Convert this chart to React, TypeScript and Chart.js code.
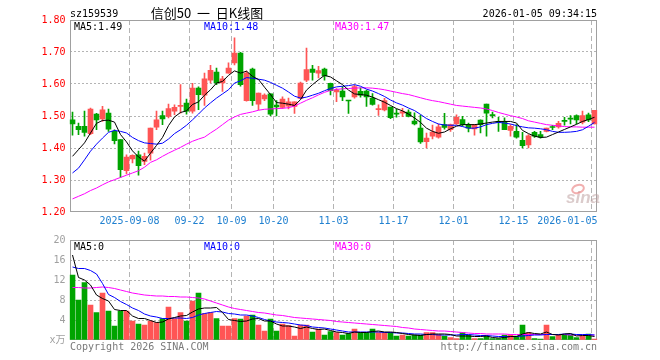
import React, { useEffect, useRef } from 'react';
import { Chart, registerables } from 'chart.js';

Chart.register(...registerables);

// ---------- data ----------
const dates = [
  '2025-08-25', '2025-08-26', '2025-08-27', '2025-08-28', '2025-08-29',
  '2025-09-01', '2025-09-02', '2025-09-03', '2025-09-04', '2025-09-05',
  '2025-09-08', '2025-09-09', '2025-09-10', '2025-09-11', '2025-09-12',
  '2025-09-15', '2025-09-16', '2025-09-17', '2025-09-18', '2025-09-19',
  '2025-09-22', '2025-09-23', '2025-09-24', '2025-09-25', '2025-09-26',
  '2025-09-29', '2025-09-30',
  '2025-10-09', '2025-10-10',
  '2025-10-13', '2025-10-14', '2025-10-15', '2025-10-16', '2025-10-17',
  '2025-10-20', '2025-10-21', '2025-10-22', '2025-10-23', '2025-10-24',
  '2025-10-27', '2025-10-28', '2025-10-29', '2025-10-30', '2025-10-31',
  '2025-11-03', '2025-11-04', '2025-11-05', '2025-11-06', '2025-11-07',
  '2025-11-10', '2025-11-11', '2025-11-12', '2025-11-13', '2025-11-14',
  '2025-11-17', '2025-11-18', '2025-11-19', '2025-11-20', '2025-11-21',
  '2025-11-24', '2025-11-25', '2025-11-26', '2025-11-27', '2025-11-28',
  '2025-12-01', '2025-12-02', '2025-12-03', '2025-12-04', '2025-12-05',
  '2025-12-08', '2025-12-09', '2025-12-10', '2025-12-11', '2025-12-12',
  '2025-12-15', '2025-12-16', '2025-12-17', '2025-12-18', '2025-12-19',
  '2025-12-22', '2025-12-23', '2025-12-24', '2025-12-25', '2025-12-26',
  '2025-12-29', '2025-12-30', '2025-12-31',
  '2026-01-05',
];

const open = [
  1.488, 1.468, 1.468, 1.445, 1.506, 1.491, 1.509, 1.452, 1.426, 1.329,
  1.366, 1.379, 1.358, 1.384, 1.465, 1.501, 1.499, 1.515, 1.530, 1.540,
  1.515, 1.587, 1.565, 1.612, 1.637, 1.603, 1.634, 1.666, 1.697, 1.548,
  1.647, 1.537, 1.553, 1.569, 1.534, 1.527, 1.531, 1.530, 1.555, 1.612,
  1.647, 1.634, 1.647, 1.602, 1.575, 1.578, 1.548, 1.560, 1.577, 1.578,
  1.556, 1.520, 1.519, 1.528, 1.508, 1.509, 1.512, 1.484, 1.462, 1.420,
  1.437, 1.434, 1.473, 1.457, 1.475, 1.489, 1.473, 1.460, 1.487, 1.537,
  1.502, 1.482, 1.483, 1.455, 1.452, 1.424, 1.410, 1.449, 1.442, 1.452,
  1.466, 1.466, 1.484, 1.491, 1.501, 1.481, 1.504, 1.475,
];
const high = [
  1.512, 1.478, 1.515, 1.525, 1.508, 1.530, 1.522, 1.457, 1.426, 1.379,
  1.379, 1.390, 1.384, 1.462, 1.515, 1.515, 1.537, 1.535, 1.598, 1.553,
  1.602, 1.591, 1.634, 1.658, 1.650, 1.624, 1.666, 1.744, 1.699, 1.640,
  1.650, 1.572, 1.569, 1.569, 1.548, 1.560, 1.556, 1.544, 1.606, 1.712,
  1.658, 1.655, 1.650, 1.603, 1.586, 1.592, 1.548, 1.597, 1.588, 1.581,
  1.570, 1.535, 1.555, 1.528, 1.522, 1.524, 1.519, 1.510, 1.503, 1.447,
  1.472, 1.475, 1.508, 1.475, 1.504, 1.499, 1.478, 1.473, 1.488, 1.537,
  1.512, 1.496, 1.494, 1.473, 1.473, 1.449, 1.442, 1.452, 1.452, 1.462,
  1.471, 1.483, 1.496, 1.501, 1.504, 1.515, 1.509, 1.518,
];
const low = [
  1.440, 1.442, 1.437, 1.442, 1.457, 1.483, 1.452, 1.413, 1.308, 1.319,
  1.353, 1.315, 1.348, 1.362, 1.457, 1.473, 1.494, 1.504, 1.509, 1.506,
  1.509, 1.520, 1.533, 1.603, 1.598, 1.577, 1.634, 1.660, 1.593, 1.546,
  1.533, 1.519, 1.548, 1.501, 1.500, 1.524, 1.522, 1.508, 1.553, 1.607,
  1.612, 1.619, 1.612, 1.566, 1.545, 1.548, 1.508, 1.556, 1.559, 1.530,
  1.534, 1.502, 1.516, 1.492, 1.496, 1.498, 1.497, 1.472, 1.414, 1.400,
  1.428, 1.431, 1.459, 1.452, 1.474, 1.468, 1.450, 1.440, 1.447, 1.437,
  1.494, 1.452, 1.457, 1.437, 1.431, 1.400, 1.400, 1.433, 1.431, 1.450,
  1.457, 1.462, 1.471, 1.475, 1.475, 1.475, 1.482, 1.475,
];
const close = [
  1.475, 1.457, 1.449, 1.522, 1.488, 1.519, 1.459, 1.423, 1.332, 1.372,
  1.377, 1.345, 1.374, 1.462, 1.488, 1.491, 1.523, 1.527, 1.533, 1.515,
  1.587, 1.567, 1.616, 1.643, 1.603, 1.616, 1.650, 1.697, 1.598, 1.634,
  1.548, 1.572, 1.565, 1.506, 1.528, 1.553, 1.544, 1.544, 1.603, 1.645,
  1.636, 1.642, 1.625, 1.579, 1.581, 1.560, 1.547, 1.592, 1.565, 1.560,
  1.536, 1.523, 1.548, 1.495, 1.506, 1.514, 1.499, 1.475, 1.419, 1.431,
  1.450, 1.466, 1.464, 1.473, 1.496, 1.473, 1.462, 1.473, 1.473, 1.509,
  1.501, 1.480, 1.457, 1.468, 1.434, 1.407, 1.438, 1.437, 1.434, 1.462,
  1.464, 1.477, 1.483, 1.490, 1.488, 1.501, 1.488, 1.518,
];

const ma5 = [
  1.374, 1.395, 1.416, 1.447, 1.477, 1.486, 1.487, 1.481, 1.442, 1.419,
  1.391, 1.372, 1.359, 1.384, 1.408, 1.433, 1.470, 1.497, 1.511, 1.516,
  1.536, 1.544, 1.565, 1.582, 1.603, 1.608, 1.627, 1.641, 1.634, 1.640,
  1.624, 1.614, 1.590, 1.567, 1.542, 1.540, 1.537, 1.533, 1.551, 1.581,
  1.598, 1.613, 1.627, 1.622, 1.610, 1.598, 1.581, 1.569, 1.567, 1.565,
  1.559, 1.551, 1.543, 1.533, 1.523, 1.516, 1.506, 1.494, 1.480, 1.462,
  1.452, 1.446, 1.450, 1.460, 1.468, 1.473, 1.473, 1.473, 1.475, 1.478,
  1.481, 1.483, 1.483, 1.483, 1.478, 1.455, 1.445, 1.437, 1.433, 1.434,
  1.442, 1.450, 1.458, 1.466, 1.474, 1.483, 1.489, 1.496,
];
const ma10 = [
  1.322, 1.337, 1.363, 1.390, 1.412, 1.431, 1.449, 1.455, 1.452, 1.447,
  1.433, 1.423, 1.416, 1.414, 1.412, 1.415, 1.428, 1.445, 1.457, 1.471,
  1.488, 1.506, 1.525, 1.541, 1.556, 1.569, 1.582, 1.603, 1.610, 1.620,
  1.618, 1.615, 1.612, 1.605, 1.596, 1.587, 1.575, 1.562, 1.556, 1.559,
  1.565, 1.571, 1.579, 1.586, 1.591, 1.593, 1.595, 1.598, 1.593, 1.584,
  1.578, 1.570, 1.561, 1.550, 1.541, 1.534, 1.525, 1.517, 1.505, 1.492,
  1.483, 1.475, 1.472, 1.471, 1.471, 1.467, 1.462, 1.462, 1.466, 1.473,
  1.477, 1.480, 1.478, 1.475, 1.470, 1.466, 1.463, 1.462, 1.460, 1.457,
  1.452, 1.449, 1.449, 1.450, 1.452, 1.457, 1.468, 1.480,
];
const ma30 = [
  1.241, 1.249, 1.257, 1.267, 1.275, 1.285, 1.294, 1.301, 1.308, 1.315,
  1.322, 1.329, 1.340, 1.355, 1.363, 1.374, 1.384, 1.393, 1.402, 1.412,
  1.421, 1.428, 1.434, 1.447, 1.459, 1.473, 1.487, 1.497, 1.505, 1.509,
  1.513, 1.518, 1.521, 1.522, 1.523, 1.524, 1.526, 1.531, 1.540, 1.549,
  1.557, 1.566, 1.574, 1.580, 1.583, 1.585, 1.586, 1.587, 1.588, 1.588,
  1.587, 1.585, 1.582, 1.578, 1.574, 1.570, 1.567, 1.562, 1.557, 1.552,
  1.548, 1.545, 1.541, 1.537, 1.533, 1.531, 1.529, 1.527, 1.525, 1.522,
  1.517, 1.511, 1.506, 1.501, 1.497, 1.492, 1.485, 1.481, 1.477, 1.473,
  1.471, 1.469, 1.467, 1.466, 1.466, 1.465, 1.465, 1.465,
];

// volume, in 万
const volume = [
  13.0, 8.0, 11.5, 7.0, 5.5, 9.4, 5.8, 2.8, 5.8, 5.8,
  3.8, 3.2, 3.0, 3.8, 3.5, 4.3, 6.6, 4.3, 5.5, 3.8,
  7.8, 9.4, 5.3, 5.5, 4.3, 2.8, 2.8, 4.3, 4.2, 4.8,
  5.0, 3.0, 1.8, 4.2, 1.8, 3.2, 2.9, 0.8, 3.0, 3.0,
  1.6, 2.2, 1.0, 1.7, 1.5, 1.0, 1.3, 2.2, 1.5, 1.5,
  2.2, 1.5, 1.5, 1.5, 0.8, 1.0, 0.8, 1.0, 1.0, 1.5,
  1.5, 1.1, 0.8, 0.5, 0.3, 1.5, 1.0, 0.3, 0.3, 0.8,
  0.3, 0.3, 1.0, 1.1, 0.8, 3.0, 1.5, 0.3, 0.2, 3.0,
  0.7, 1.0, 1.0, 1.0, 0.5, 0.8, 1.2, 0.2,
];
const volMa5 = [
  17.0, 12.5, 12.0, 11.0, 9.0, 8.3, 7.8, 6.1, 5.9, 5.9,
  4.8, 4.3, 4.3, 3.9, 3.5, 3.6, 4.2, 4.5, 4.8, 4.9,
  5.6, 6.2, 6.4, 6.4, 6.5, 5.5, 4.1, 3.9, 3.7, 3.8,
  4.2, 4.3, 3.8, 3.8, 3.2, 2.8, 2.8, 2.6, 2.3, 2.6,
  2.3, 2.1, 2.2, 1.9, 1.6, 1.5, 1.3, 1.6, 1.5, 1.5,
  1.7, 1.8, 1.6, 1.6, 1.5, 1.3, 1.1, 1.0, 0.9, 1.1,
  1.2, 1.2, 1.2, 1.1, 0.8, 0.8, 0.8, 0.7, 0.7, 0.8,
  0.5, 0.4, 0.5, 0.7, 0.7, 1.2, 1.5, 1.3, 1.2, 1.6,
  1.1, 1.0, 1.2, 1.3, 0.8, 0.9, 0.9, 0.7,
];
const volMa10 = [
  14.6, 14.3, 14.3, 13.9, 13.2, 11.3, 9.1, 8.5, 7.7, 7.1,
  6.4, 5.9, 5.2, 4.8, 4.6, 4.3, 4.3, 4.4, 4.4, 4.3,
  4.5, 5.0, 5.3, 5.5, 5.7, 5.6, 5.3, 5.2, 5.0, 5.0,
  4.8, 4.5, 4.1, 3.8, 3.6, 3.5, 3.4, 3.2, 3.0, 2.9,
  2.6, 2.5, 2.4, 2.2, 2.0, 1.8, 1.6, 1.6, 1.6, 1.6,
  1.6, 1.6, 1.5, 1.5, 1.4, 1.4, 1.3, 1.2, 1.2, 1.1,
  1.1, 1.0, 1.0, 1.0, 1.0, 1.1, 1.1, 1.0, 0.9, 0.9,
  0.8, 0.7, 0.7, 0.7, 0.7, 0.8, 0.9, 1.0, 1.0, 1.1,
  1.1, 1.1, 1.2, 1.2, 1.1, 1.1, 1.1, 1.0,
];
const volMa30 = [
  10.5, 10.5, 10.4, 10.4, 10.5, 10.6, 10.5, 10.3, 10.0, 9.7,
  9.4, 9.2, 9.0, 8.9, 8.8, 8.8, 8.7, 8.7, 8.6, 8.6,
  8.5, 8.4, 8.2, 7.8, 7.4, 7.0, 6.6, 6.3, 6.1, 5.9,
  5.7, 5.5, 5.4, 5.2, 5.0, 4.9, 4.7, 4.5, 4.4, 4.3,
  4.2, 4.1, 4.0, 3.9, 3.7, 3.6, 3.5, 3.4, 3.3, 3.2,
  3.1, 3.0, 2.9, 2.8, 2.7, 2.5, 2.4, 2.2, 2.1, 2.0,
  1.9, 1.8, 1.8, 1.7, 1.6, 1.5, 1.4, 1.3, 1.3, 1.2,
  1.2, 1.2, 1.2, 1.1, 1.1, 1.1, 1.1, 1.1, 1.1, 1.1,
  1.1, 1.1, 1.1, 1.0, 1.0, 1.0, 1.0, 1.0,
];

const tickDates = ['2025-09-08', '2025-09-22', '2025-10-09', '2025-10-20', '2025-11-03', '2025-11-17', '2025-12-01', '2025-12-15', '2026-01-05'];
const tickLabels = ['2025-09-08', '09-22', '10-09', '10-20', '11-03', '11-17', '12-01', '12-15', '2026-01-05'];

const symbolText = 'sz159539';
const titleText = '信创50  一  日K线图';
const timeText = '2026-01-05 09:34:15';
const priceLegend = ['MA5:1.49', 'MA10:1.48', 'MA30:1.47'];
const volLegend = ['MA5:0', 'MA10:0', 'MA30:0'];
const copyrightText = 'Copyright 2026 SINA.COM';
const urlText = 'http://finance.sina.com.cn';

// ---------- styles ----------
const UP = '#ff5555';
const DOWN = '#00a400';
const GRID = '#b4b4b4';
const FRAME = '#a0a0a0';
const MONO = '"DejaVu Sans Mono", "Noto Sans CJK SC", monospace';
const LEGEND_COLORS = ['#000000', '#0000ff', '#ff00ff'];
const LEGEND_X = [74, 204, 335];
const AREA_LEFT = 69.5;
const AREA_RIGHT = 597.5;

const candleColors = close.map((c, i) => (c >= open[i] ? UP : DOWN));
const tickIdx = new Set(tickDates.map((d) => dates.indexOf(d)));

function lineDs(label: string, data: number[], color: string) {
  return {
    type: 'line' as const,
    label,
    data,
    borderColor: color,
    backgroundColor: color,
    borderWidth: 1,
    pointRadius: 0,
    tension: 0,
    fill: false,
    order: 0,
  };
}

function xScale() {
  return {
    offset: true,
    grid: {
      offset: true,
      drawTicks: false,
      lineWidth: 1,
      color: (c: any) => (tickIdx.has(c.index) ? GRID : 'rgba(0,0,0,0)'),
    },
    border: { display: false, dash: [5, 3] },
    ticks: { display: false, autoSkip: false },
    afterFit: (s: any) => {
      s.height = 0;
    },
  };
}

function drawFrame(chart: any) {
  const { ctx, chartArea } = chart;
  const x1 = Math.round(chartArea.left) + 0.5;
  const x2 = Math.floor(chartArea.right) - 0.5;
  const y1 = Math.round(chartArea.top) + 0.5;
  const y2 = Math.round(chartArea.bottom) - 0.5;
  ctx.save();
  ctx.strokeStyle = FRAME;
  ctx.lineWidth = 1;
  ctx.strokeRect(x1, y1, x2 - x1, y2 - y1);
  ctx.restore();
}

const pricePlugin = {
  id: 'priceDecor',
  beforeDatasetsDraw(chart: any) {
    drawFrame(chart);
  },
  afterDraw(chart: any) {
    const { ctx, chartArea } = chart;
    const xs = chart.scales.x;
    ctx.save();
    ctx.textBaseline = 'alphabetic';
    ctx.font = `10px ${MONO}`;
    ctx.fillStyle = '#000';
    ctx.textAlign = 'left';
    ctx.fillText(symbolText, 70, 17);
    ctx.textAlign = 'right';
    ctx.fillText(timeText, 597, 17);
    ctx.font = '13px "Noto Sans CJK SC", sans-serif';
    ctx.textAlign = 'center';
    ctx.fillText(titleText, 207, 18);

    ctx.font = `10px ${MONO}`;
    ctx.textAlign = 'left';
    priceLegend.forEach((t, k) => {
      ctx.fillStyle = LEGEND_COLORS[k];
      ctx.fillText(t, LEGEND_X[k], 30);
    });

    // date labels
    ctx.fillStyle = '#2080d0';
    ctx.textAlign = 'center';
    ctx.textBaseline = 'middle';
    const step = xs.width / dates.length;
    tickDates.forEach((d, k) => {
      const idx = dates.indexOf(d);
      let x = xs.getPixelForValue(idx) - step / 2;
      const w = ctx.measureText(tickLabels[k]).width;
      if (x + w / 2 > chartArea.right) x = chartArea.right - w / 2;
      ctx.fillText(tickLabels[k], x, 221);
    });

    // sina watermark
    ctx.textBaseline = 'alphabetic';
    ctx.textAlign = 'left';
    ctx.font = 'italic bold 17px "Liberation Sans", sans-serif';
    ctx.fillStyle = 'rgba(190,160,160,0.55)';
    ctx.fillText('sina', 566, 203);
    ctx.strokeStyle = 'rgba(230,110,110,0.55)';
    ctx.lineWidth = 2;
    ctx.beginPath();
    ctx.ellipse(578, 189, 6, 4, -0.3, 0, Math.PI * 2);
    ctx.stroke();
    ctx.restore();
  },
};

const volPlugin = {
  id: 'volDecor',
  beforeDatasetsDraw(chart: any) {
    drawFrame(chart);
  },
  afterDraw(chart: any) {
    const { ctx } = chart;
    ctx.save();
    ctx.font = `10px ${MONO}`;
    ctx.textAlign = 'left';
    ctx.textBaseline = 'alphabetic';
    volLegend.forEach((t, k) => {
      ctx.fillStyle = LEGEND_COLORS[k];
      ctx.fillText(t, LEGEND_X[k], 250);
    });
    ctx.fillStyle = '#7a7a7a';
    ctx.fillText(copyrightText, 70, 350);
    ctx.textAlign = 'right';
    ctx.fillText(urlText, 597, 350);
    ctx.restore();
  },
};

export default function App() {
  const priceRef = useRef<HTMLCanvasElement | null>(null);
  const volRef = useRef<HTMLCanvasElement | null>(null);

  useEffect(() => {
    if (!priceRef.current || !volRef.current) return;

    const priceChart = new Chart(priceRef.current, {
      type: 'bar',
      data: {
        labels: dates,
        datasets: [
          lineDs('MA5', ma5, '#000000'),
          lineDs('MA10', ma10, '#0000ff'),
          lineDs('MA30', ma30, '#ff00ff'),
          {
            type: 'bar',
            label: 'body',
            data: open.map((o, i) => [o, close[i]]),
            backgroundColor: candleColors,
            barThickness: 5,
            minBarLength: 1,
            grouped: false,
            order: 1,
          } as any,
          {
            type: 'bar',
            label: 'wick',
            data: low.map((l, i) => [l, high[i]]),
            backgroundColor: candleColors,
            barThickness: 1,
            minBarLength: 1,
            grouped: false,
            order: 2,
          } as any,
        ],
      },
      options: {
        responsive: false,
        animation: false,
        devicePixelRatio: 1,
        events: [],
        layout: { padding: { top: 20, left: 0, right: 660 - AREA_RIGHT, bottom: 360 - 212 } },
        plugins: { legend: { display: false }, tooltip: { enabled: false } },
        scales: {
          x: xScale() as any,
          y: {
            min: 1.2,
            max: 1.8,
            ticks: {
              stepSize: 0.1,
              color: '#ff0000',
              font: { family: MONO, size: 10 },
              padding: 4,
              callback: (v: any) => Number(v).toFixed(2),
            },
            grid: {
              drawTicks: false,
              color: (c: any) =>
                c.tick && (c.tick.value < 1.25 || c.tick.value > 1.75) ? 'rgba(0,0,0,0)' : GRID,
            },
            border: { display: false, dash: [2, 2] },
            afterFit: (s: any) => {
              s.width = AREA_LEFT;
            },
          } as any,
        },
      },
      plugins: [pricePlugin],
    });

    const volChart = new Chart(volRef.current, {
      type: 'bar',
      data: {
        labels: dates,
        datasets: [
          lineDs('MA5', volMa5, '#000000'),
          lineDs('MA10', volMa10, '#0000ff'),
          lineDs('MA30', volMa30, '#ff00ff'),
          {
            type: 'bar',
            label: 'volume',
            data: volume,
            backgroundColor: candleColors,
            barThickness: 5,
            grouped: false,
            order: 1,
          } as any,
        ],
      },
      options: {
        responsive: false,
        animation: false,
        devicePixelRatio: 1,
        events: [],
        layout: { padding: { top: 240, left: 0, right: 660 - AREA_RIGHT, bottom: 20 } },
        plugins: { legend: { display: false }, tooltip: { enabled: false } },
        scales: {
          x: xScale() as any,
          y: {
            min: 0,
            max: 20,
            ticks: {
              stepSize: 4,
              color: '#a0a0a0',
              font: { family: MONO, size: 10 },
              padding: 4,
              callback: (v: any) => (Number(v) === 0 ? 'x万' : String(v)),
            },
            grid: {
              drawTicks: false,
              color: (c: any) =>
                c.tick && (c.tick.value < 1 || c.tick.value > 19) ? 'rgba(0,0,0,0)' : GRID,
            },
            border: { display: false, dash: [2, 2] },
            afterFit: (s: any) => {
              s.width = AREA_LEFT;
            },
          } as any,
        },
      },
      plugins: [volPlugin],
    });

    return () => {
      priceChart.destroy();
      volChart.destroy();
    };
  }, []);

  return (
    <div style={{ position: 'fixed', left: 0, top: 0, width: 660, height: 360, background: '#ffffff' }}>
      <canvas ref={priceRef} width={660} height={360} style={{ position: 'absolute', left: 0, top: 0, width: 660, height: 360 }} />
      <canvas ref={volRef} width={660} height={360} style={{ position: 'absolute', left: 0, top: 0, width: 660, height: 360 }} />
    </div>
  );
}
